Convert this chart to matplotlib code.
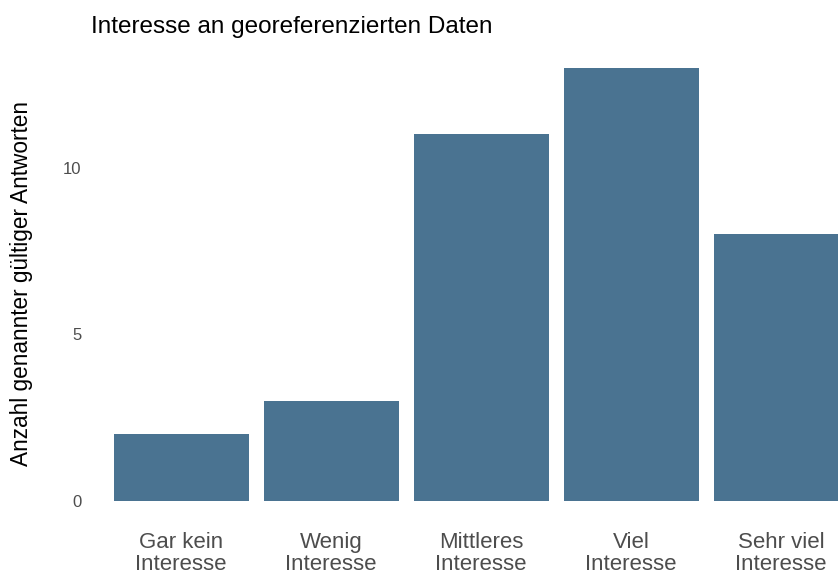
import matplotlib
matplotlib.use("Agg")
import matplotlib.pyplot as plt

categories = ["Gar kein\nInteresse", "Wenig\nInteresse", "Mittleres\nInteresse", "Viel\nInteresse", "Sehr viel\nInteresse"]
values = [2, 3, 11, 13, 8]
yticks = [0, 5, 10]

plt.rcParams['font.family'] = ['Liberation Sans', 'DejaVu Sans']

W, H = 838, 576
fig = plt.figure(figsize=(W/100, H/100), dpi=100)
left, right = 91, 871
top, bottom = 46, 522.7
ax = fig.add_axes([left/W, 1-bottom/H, (right-left)/W, (bottom-top)/H])
x = list(range(1, len(values)+1))
ax.bar(x, values, width=0.9, color="#4a7391", edgecolor="none")
ax.set_xlim(0.4, 5.6)
ax.set_ylim(-0.65, 13.65)
ax.set_yticks(yticks)
ax.set_yticklabels([str(v) for v in yticks])
ax.set_xticks(x)
ax.set_xticklabels(categories)
for s in ax.spines.values():
    s.set_visible(False)
ax.tick_params(axis='both', length=0)
ax.tick_params(axis='y', labelsize=12, labelcolor="#4d4d4d", pad=7)
ax.tick_params(axis='x', labelsize=16, labelcolor="#4d4d4d", pad=6.5)
for lab in ax.get_xticklabels():
    lab.set_linespacing(1.1)
fig.text(22/W, 1-283/H, "Anzahl genannter gültiger Antworten", fontsize=16.3, rotation=90,
         ha="center", va="center", color="black")
fig.text(91/W, 1-27/H, "Interesse an georeferenzierten Daten", fontsize=17.5, ha="left", va="center")
fig.savefig("out.png", dpi=100)
